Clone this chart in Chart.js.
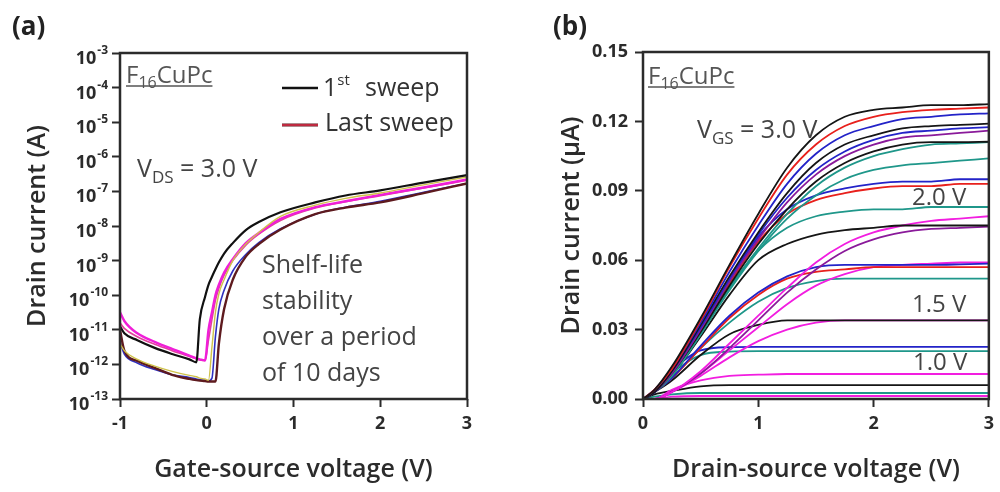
<!DOCTYPE html>
<html>
<head>
<meta charset="utf-8">
<script src="https://cdn.jsdelivr.net/npm/chart.js@4.4.1/dist/chart.umd.min.js"></script>
<style>
  html, body { margin: 0; padding: 0; background: #fff; }
  #wrap { position: relative; width: 1000px; height: 492px; }
  .panel { position: absolute; top: 0; width: 500px; height: 492px; }
</style>
</head>
<body>
<div id="wrap">
  <div class="panel" style="left:0"><canvas id="chartA"></canvas></div>
  <div class="panel" style="left:500px"><canvas id="chartB"></canvas></div>
</div>
<script>
// ═══ DATA — panel (a), transfer curves, log scale ═══
const vgs = [-1, -0.95, -0.8, -0.6, -0.4, -0.2, -0.12, -0.08, -0.02, 0.02, 0.06, 0.1, 0.14, 0.2, 0.3, 0.45, 0.6, 0.85, 1.25, 1.6, 2.0, 2.5, 3.0];
const idFirstSweep = [1.26e-11, 7.9e-12, 5.0e-12, 3.0e-12, 2.0e-12, 1.4e-12, 1.15e-12, 2.0e-11, 8.9e-11, 2.0e-10, 3.4e-10, 5.6e-10, 8.9e-10, 1.6e-9, 3.2e-9, 7.6e-9, 1.3e-8, 2.5e-8, 4.8e-8, 7.6e-8, 1.07e-7, 1.8e-7, 2.95e-7];
const idMagentaUp  = [3.2e-11, 1.8e-11, 7.9e-12, 4.5e-12, 2.8e-12, 1.8e-12, 1.5e-12, 1.4e-12, 1.3e-12, 1.0e-11, 3.2e-11, 1.0e-10, 2.0e-10, 4.5e-10, 1.1e-9, 3.2e-9, 6.3e-9, 1.6e-8, 3.5e-8, 5.2e-8, 7.9e-8, 1.3e-7, 2.2e-7];
const idPink       = [1.6e-11, 1.1e-11, 6.3e-12, 3.8e-12, 2.5e-12, 1.7e-12, 1.45e-12, 1.35e-12, 1.3e-12, 5.0e-12, 2.0e-11, 7.1e-11, 1.6e-10, 3.8e-10, 1.0e-9, 2.8e-9, 5.8e-9, 1.45e-8, 3.3e-8, 5.0e-8, 7.5e-8, 1.25e-7, 2.1e-7];
const idOlive      = [4.0e-12, 2.5e-12, 1.4e-12, 8.9e-13, 6.3e-13, 4.8e-13, 4.4e-13, 4.0e-13, 3.8e-13, 3.5e-13, 3.2e-12, 3.2e-11, 1.1e-10, 2.8e-10, 1.0e-9, 3.0e-9, 6.5e-9, 1.9e-8, 4.0e-8, 6.3e-8, 9.0e-8, 1.55e-7, 2.6e-7];
const idBlueLow    = [4.5e-12, 2.0e-12, 1.1e-12, 7.1e-13, 5.0e-13, 4.2e-13, 3.8e-13, 3.6e-13, 3.5e-13, 3.3e-13, 4.0e-13, 6.3e-12, 4.0e-11, 1.4e-10, 5.0e-10, 1.5e-9, 3.3e-9, 8.3e-9, 2.2e-8, 3.5e-8, 5.2e-8, 9.5e-8, 1.7e-7];
const idLastSweep  = [1.0e-11, 2.5e-12, 1.26e-12, 7.9e-13, 5.0e-13, 3.8e-13, 3.5e-13, 3.4e-13, 3.3e-13, 3.2e-13, 3.2e-13, 3.2e-13, 4.0e-12, 4.0e-11, 2.8e-10, 1.3e-9, 3.0e-9, 7.9e-9, 2.2e-8, 3.4e-8, 4.8e-8, 8.9e-8, 1.7e-7];
const xTicksA = [-1, 0, 1, 2, 3];
const yExpA = [-13, -12, -11, -10, -9, -8, -7, -6, -5, -4, -3];

// ═══ DATA — panel (b), output curves (µA) ═══
const vds = [0, 0.1, 0.25, 0.5, 0.75, 1, 1.25, 1.5, 1.75, 2, 2.25, 2.5, 2.75, 3];
const k127 = [0, .004, .014, .035, .058, .080, .100, .114, .122, .125, .126, .127, .127, .1275];
const r126 = [0, .004, .013, .034, .057, .078, .097, .110, .118, .122, .124, .125, .1255, .126];
const b1235 = [0, .004, .013, .033, .055, .075, .093, .106, .114, .118, .121, .122, .123, .1235];
const k119 = [0, .003, .012, .032, .053, .072, .089, .102, .110, .114, .117, .118, .1185, .119];
const b1175 = [0, .003, .012, .031, .052, .071, .087, .099, .107, .112, .115, .116, .117, .1175];
const p116 = [0, .003, .011, .030, .051, .069, .085, .097, .105, .110, .113, .114, .115, .116];
const k111 = [0, .003, .011, .029, .049, .067, .082, .094, .102, .107, .110, .111, .111, .1112];
const t111 = [0, .003, .011, .028, .048, .065, .080, .092, .100, .105, .108, .110, .1105, .111];
const t104 = [0, .003, .010, .028, .047, .064, .078, .088, .095, .099, .101, .102, .103, .104];
const b095 = [0, .003, .011, .030, .051, .070, .082, .088, .091, .093, .094, .094, .095, .095];
const r093 = [0, .003, .011, .030, .050, .068, .080, .086, .089, .091, .092, .092, .093, .093];
const t083 = [0, .003, .010, .028, .048, .064, .074, .079, .081, .082, .082, .083, .083, .083];
const k075 = [0, .003, .010, .027, .045, .060, .067, .071, .073, .074, .075, .075, .075, .075];
const m079 = [0, 0, .003, .012, .024, .036, .048, .059, .067, .072, .075, .077, .078, .079];
const m0745 = [0, 0, .003, .011, .022, .034, .046, .056, .064, .069, .072, .0735, .074, .0745];
const b058 = [0, .003, .009, .023, .036, .046, .053, .057, .058, .058, .058, .058, .0582, .0585];
const r057 = [0, .003, .009, .022, .035, .045, .052, .055, .056, .057, .057, .057, .057, .057];
const m059 = [0, 0, .003, .011, .021, .031, .041, .049, .054, .057, .058, .0585, .059, .059];
const t052 = [0, .003, .009, .022, .033, .042, .048, .051, .052, .052, .052, .052, .052, .052];
const k034 = [0, .003, .008, .019, .028, .032, .034, .034, .034, .034, .034, .034, .034, .034];
const m034 = [0, 0, .003, .010, .018, .025, .030, .033, .034, .034, .034, .034, .034, .034];
const b0225 = [0, .003, .012, .021, .0224, .0225, .0225, .0225, .0225, .0225, .0225, .0225, .0225, .0225];
const t0207 = [0, .003, .011, .019, .0205, .0207, .0207, .0207, .0207, .0207, .0207, .0207, .0207, .0207];
const m0108 = [0, 0, .004, .008, .010, .0105, .0108, .0108, .0108, .0108, .0108, .0108, .0108, .0108];
const k006 = [0, .002, .0035, .0055, .006, .006, .006, .006, .006, .006, .006, .006, .006, .006];
const t0026 = [0, .001, .002, .0026, .0026, .0026, .0026, .0026, .0026, .0026, .0026, .0026, .0026, .0026];
const m0013 = [0, 0, .001, .0013, .0013, .0013, .0013, .0013, .0013, .0013, .0013, .0013, .0013, .0013];
const xTicksB = [0, 1, 2, 3];
const yTicksB = [0, 0.03, 0.06, 0.09, 0.12, 0.15];

// ═══ STYLE ═══
const FONT = "'Open Sans', 'DejaVu Sans', sans-serif";
const C = { k: '#151515', r: '#e8201c', b: '#2323c8', t: '#1f978a', m: '#f21ee0', p: '#8a1a9a' };
const INK = '#2b2b2b';
const NOTE = 25;   // annotation text size

function pts(xs, ys) { return xs.map((x, i) => ({ x: x, y: ys[i] })); }
function line(xs, ys, color, w) {
  return { data: pts(xs, ys), borderColor: color, borderWidth: w, pointRadius: 0,
           cubicInterpolationMode: 'monotone', fill: false };
}

// draw a run of text pieces: [text, px, dy, weight]
function runs(ctx, x, y, parts, color) {
  ctx.fillStyle = color; ctx.textAlign = 'left'; ctx.textBaseline = 'alphabetic';
  for (const [t, px, dy, w] of parts) {
    ctx.font = (w || 400) + ' ' + px + 'px ' + FONT;
    ctx.fillText(t, x, y + (dy || 0));
    x += ctx.measureText(t).width;
  }
  return x;
}
function frame(ctx, a) {
  ctx.strokeStyle = INK; ctx.lineWidth = 2.5;
  ctx.strokeRect(a.left, a.top, a.right - a.left, a.bottom - a.top);
}
function vTitle(ctx, text, x, y) {
  ctx.save(); ctx.translate(x, y); ctx.rotate(-Math.PI / 2);
  ctx.font = '600 25px ' + FONT; ctx.fillStyle = INK; ctx.textAlign = 'center'; ctx.textBaseline = 'middle';
  ctx.fillText(text, 0, 0); ctx.restore();
}
function hTitle(ctx, text, x, y) {
  ctx.font = '600 25px ' + FONT; ctx.fillStyle = INK; ctx.textAlign = 'center'; ctx.textBaseline = 'middle';
  ctx.fillText(text, x, y);
}
function material(ctx, x, y) {
  const end = runs(ctx, x, y, [['F', 24], ['16', 16, 5], ['CuPc', 24]], '#555');
  ctx.strokeStyle = '#555'; ctx.lineWidth = 1.3;
  ctx.beginPath(); ctx.moveTo(x, y + 3); ctx.lineTo(end, y + 3); ctx.stroke();
}

const gridOpts = { drawOnChartArea: false, drawTicks: true, tickLength: 8, tickWidth: 2, tickColor: INK };
const tickFont = { family: FONT, size: 18, weight: '700' };

// ═══ PANEL (a) ═══
const textA = {
  id: 'textA',
  afterDraw(chart) {
    const { ctx, chartArea: a, scales: { y } } = chart;
    ctx.save();
    frame(ctx, a);
    // log tick labels 10^n
    y.ticks.forEach(t => {
      const py = y.getPixelForValue(t.value);
      const e = String(Math.round(Math.log10(t.value)));
      ctx.fillStyle = INK; ctx.textAlign = 'right'; ctx.textBaseline = 'alphabetic';
      ctx.font = '700 12px ' + FONT;
      const ew = ctx.measureText(e).width;
      ctx.fillText(e, 108, py + 1);
      ctx.font = '700 18px ' + FONT;
      ctx.fillText('10', 107 - ew, py + 11);
    });
    vTitle(ctx, 'Drain current (A)', 38, (a.top + a.bottom) / 2);
    hTitle(ctx, 'Gate-source voltage (V)', (a.left + a.right) / 2, 470);
    runs(ctx, 12, 35, [['(a)', 26, 0, 700]], '#222');
    material(ctx, 126, 83);
    // legend
    ctx.lineWidth = 2.6; ctx.strokeStyle = '#111';
    ctx.beginPath(); ctx.moveTo(282, 88); ctx.lineTo(318, 88); ctx.stroke();
    ctx.lineWidth = 3.2; ctx.strokeStyle = '#5a1a1e';
    ctx.beginPath(); ctx.moveTo(282, 125); ctx.lineTo(318, 125); ctx.stroke();
    ctx.lineWidth = 1.4; ctx.strokeStyle = '#e0304c';
    ctx.beginPath(); ctx.moveTo(282, 125); ctx.lineTo(318, 125); ctx.stroke();
    runs(ctx, 323, 96, [['1', NOTE], ['st', 15, -11]], '#333');
    runs(ctx, 365, 96, [['sweep', NOTE]], '#333');
    runs(ctx, 325, 131, [['Last sweep', NOTE]], '#333');
    runs(ctx, 137, 177, [['V', NOTE], ['DS', 17, 6], [' = 3.0 V', NOTE]], '#444');
    ['Shelf-life', 'stability', 'over a period', 'of 10 days'].forEach((s, i) => {
      runs(ctx, 262, 273 + i * 36, [[s, NOTE]], '#444');
    });
    ctx.restore();
  }
};

new Chart(document.getElementById('chartA'), {
  type: 'line',
  data: {
    datasets: [
      line(vgs, idFirstSweep, '#111111', 2.2),
      line(vgs, idOlive, '#cfc24a', 1.4),
      line(vgs, idMagentaUp, '#f01ed8', 2.4),
      line(vgs, idPink, '#e0409a', 1.6),
      line(vgs, idLastSweep, '#5e1a1e', 2.4),
      line(vgs, idBlueLow, '#3030c0', 1.6)
    ]
  },
  options: {
    responsive: true, maintainAspectRatio: false, animation: false,
    layout: { padding: { left: 0, right: 33, top: 53, bottom: 0 } },
    plugins: { legend: { display: false }, tooltip: { enabled: false } },
    scales: {
      x: {
        type: 'linear', min: -1, max: 3,
        afterBuildTicks: s => { s.ticks = xTicksA.map(v => ({ value: v })); },
        afterFit: s => { s.height = 93; },
        grid: gridOpts, border: { display: false },
        ticks: { font: tickFont, color: INK, padding: 6, maxRotation: 0, callback: v => v < 0 ? '-' + Math.abs(v) : String(v) }
      },
      y: {
        type: 'logarithmic', min: 1e-13, max: 1e-3,
        afterBuildTicks: s => { s.ticks = yExpA.map(e => ({ value: Math.pow(10, e) })); },
        afterFit: s => { s.width = 120; },
        grid: gridOpts, border: { display: false },
        ticks: { callback: () => '' }
      }
    }
  },
  plugins: [textA]
});

// ═══ PANEL (b) ═══
const seriesB = [
  [k127, C.k], [r126, C.r], [b1235, C.b], [k119, C.k], [b1175, C.b], [p116, C.p],
  [k111, C.k], [t111, C.t], [t104, C.t], [b095, C.b], [r093, C.r], [t083, C.t],
  [k075, C.k], [m079, C.m], [m0745, C.p], [b058, C.b], [r057, C.r], [m059, C.m],
  [t052, C.t], [k034, C.k], [m034, C.m], [b0225, C.b], [t0207, C.t], [m0108, C.m],
  [k006, C.k], [t0026, C.t], [m0013, C.m]
];

const textB = {
  id: 'textB',
  afterDraw(chart) {
    const { ctx, chartArea: a } = chart;
    ctx.save();
    frame(ctx, a);
    vTitle(ctx, 'Drain current (\u03bcA)', 72, (a.top + a.bottom) / 2);
    hTitle(ctx, 'Drain-source voltage (V)', (a.left + a.right) / 2, 470);
    runs(ctx, 53, 35, [['(b)', 26, 0, 700]], '#222');
    material(ctx, 148, 84);
    runs(ctx, 197, 138, [['V', NOTE], ['GS', 17, 6], [' = 3.0 V', NOTE]], '#444');
    runs(ctx, 412, 205, [['2.0 V', 24]], '#444');
    runs(ctx, 412, 312, [['1.5 V', 24]], '#444');
    runs(ctx, 413, 370, [['1.0 V', 24]], '#444');
    ctx.restore();
  }
};

new Chart(document.getElementById('chartB'), {
  type: 'line',
  data: { datasets: seriesB.map(([ys, c]) => line(vds, ys, c, 1.8)) },
  options: {
    responsive: true, maintainAspectRatio: false, animation: false,
    layout: { padding: { left: 0, right: 11, top: 52, bottom: 0 } },
    plugins: { legend: { display: false }, tooltip: { enabled: false } },
    scales: {
      x: {
        type: 'linear', min: 0, max: 3,
        afterBuildTicks: s => { s.ticks = xTicksB.map(v => ({ value: v })); },
        afterFit: s => { s.height = 93; },
        grid: gridOpts, border: { display: false },
        ticks: { font: tickFont, color: INK, padding: 6, maxRotation: 0 }
      },
      y: {
        type: 'linear', min: 0, max: 0.15,
        afterBuildTicks: s => { s.ticks = yTicksB.map(v => ({ value: v })); },
        afterFit: s => { s.width = 143; },
        grid: gridOpts, border: { display: false },
        ticks: { font: tickFont, color: INK, padding: 7, callback: v => v.toFixed(2) }
      }
    }
  },
  plugins: [textB]
});
</script>
</body>
</html>
